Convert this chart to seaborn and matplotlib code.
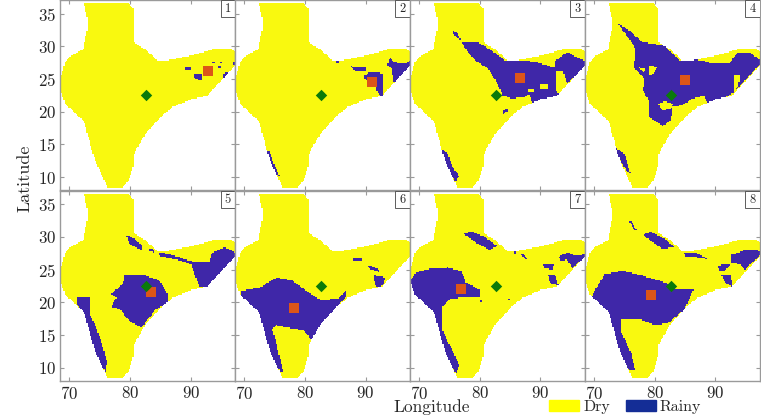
import numpy as np
import seaborn as sns
import matplotlib.pyplot as plt
from matplotlib.colors import ListedColormap
from matplotlib.patches import Patch, Rectangle
from matplotlib.path import Path

# outline of the region (lon, lat)
land = [(72.4, 36.6), (79.7, 36.6), (80.6, 35.6), (80.6, 30.6), (82.7, 29.4), (84.7, 27.7), (86.5, 27.9),
        (89.8, 28.5), (92.5, 29.2), (94.2, 29.7), (96.7, 29.6), (97.5, 29.1), (97.5, 27.3), (94.2, 23.8),
        (92.6, 22.4), (90.1, 21.9), (87.1, 20.7), (85.4, 19.5), (82.4, 16.4), (80.6, 13.5), (80.6, 11.9),
        (79.7, 9.3), (78.6, 8.3), (76.4, 8.3), (74.2, 12.6), (72.4, 18.5), (69.3, 21.2), (68.5, 23.3),
        (68.5, 24.8), (69.3, 27.6), (70.4, 28.6), (72.3, 29.6), (73.1, 33.4)]

# rainy patches for each panel
rainy_1 = [[(90.5, 25.8), (91.7, 25.8), (91.8, 24.8), (91.2, 24.9), (90.6, 25.2)],
           [(89.0, 26.7), (90.1, 26.7), (90.1, 26.35), (89.0, 26.35)],
           [(94.6, 27.0), (95.1, 27.0), (95.1, 26.5), (94.6, 26.5)],
           [(95.3, 25.8), (96.4, 26.1), (96.2, 25.7), (95.5, 25.2)],
           [(97.0, 27.6), (97.5, 27.6), (97.5, 27.1), (97.0, 27.2)],
           [(93.7, 27.6), (94.0, 27.6), (94.0, 27.3), (93.7, 27.3)],
           [(94.9, 27.6), (95.2, 27.6), (95.2, 27.3), (94.9, 27.3)]]
rainy_2 = [[(89.9, 25.5), (90.5, 26.0), (91.8, 26.1), (92.8, 25.8), (92.8, 22.2), (92.0, 22.8), (91.8, 23.8),
            (90.4, 24.5), (89.9, 25.0)],
           [(87.6, 27.0), (88.2, 26.8), (90.0, 26.8), (90.0, 26.3), (88.4, 26.2)],
           [(94.0, 28.35), (94.7, 27.6), (96.3, 27.3), (97.5, 27.85), (97.5, 27.1), (94.7, 24.5), (94.3, 26.6),
            (93.6, 27.1)],
           [(73.6, 14.1), (74.2, 14.0), (74.7, 12.5), (75.9, 10.1), (75.2, 10.5), (74.2, 12.5)],
           [(85.3, 27.7), (85.6, 27.7), (85.6, 27.3), (85.3, 27.3)]]
rainy_3 = [[(77.0, 30.6), (79.9, 30.5), (82.3, 29.1), (84.3, 27.7), (86.2, 27.9), (89.2, 27.6), (92.7, 26.6),
            (92.7, 23.3), (93.0, 22.5), (88.6, 21.3), (88.1, 22.7), (87.5, 22.3), (85.3, 22.0), (83.7, 22.5),
            (82.6, 24.8), (81.3, 26.6), (79.3, 27.8), (78.0, 29.1)],
           [(92.5, 27.8), (94.4, 29.1), (95.8, 28.4), (97.6, 27.7), (97.6, 27.2), (94.4, 24.3), (93.8, 26.1),
            (92.5, 26.3)],
           [(75.5, 32.4), (76.2, 32.1), (76.8, 31.0), (76.2, 31.3), (75.6, 31.9)],
           [(83.7, 20.0), (84.7, 20.6), (84.7, 20.2), (83.9, 19.6)],
           [(73.4, 14.5), (74.7, 13.6), (75.2, 12.1), (76.6, 10.1), (76.0, 9.3), (74.4, 11.6)]]
rainy_4 = [[(74.0, 33.4), (75.8, 32.4), (78.0, 30.6), (81.5, 30.1), (84.3, 27.7), (86.4, 28.1), (89.5, 27.4),
            (92.2, 27.3), (93.6, 28.9), (95.5, 29.1), (97.5, 27.85), (97.5, 27.4), (92.7, 22.7), (91.1, 22.0),
            (88.6, 21.3), (88.1, 22.5), (86.2, 22.0), (84.5, 21.0), (82.9, 20.7), (82.6, 18.7), (81.3, 17.8),
            (79.1, 19.2), (79.1, 21.5), (78.0, 23.3), (78.3, 25.0), (76.6, 26.8), (76.9, 29.6)],
           [(73.5, 14.5), (75.0, 13.6), (76.0, 10.6), (75.4, 10.9), (74.4, 12.4)]]
rainy_5 = [[(79.1, 24.1), (82.7, 24.1), (84.9, 23.3), (86.2, 21.3), (86.2, 19.8), (84.3, 19.0), (81.9, 16.2),
            (79.9, 17.2), (78.3, 19.0), (76.9, 19.3), (77.8, 20.8), (76.9, 21.3), (78.8, 22.8)],
           [(84.9, 27.6), (86.5, 27.4), (90.1, 26.3), (93.1, 26.1), (93.6, 27.6), (95.6, 28.4), (97.5, 27.6),
            (97.5, 27.1), (92.8, 22.3), (91.4, 22.5), (90.1, 25.8), (87.6, 26.6), (84.9, 27.1)],
           [(79.4, 30.3), (80.5, 29.9), (82.1, 28.6), (81.9, 28.0), (79.9, 28.9)],
           [(83.2, 28.3), (84.0, 28.0), (84.0, 27.6), (83.2, 27.9)],
           [(71.3, 20.7), (73.4, 20.7), (73.4, 18.2), (74.6, 15.7), (75.6, 13.0), (76.2, 10.8), (75.9, 9.4),
            (74.0, 12.5), (72.2, 18.5), (71.3, 19.6)]]
rainy_6 = [[(69.5, 21.8), (72.6, 22.3), (75.3, 23.8), (78.0, 23.3), (80.2, 21.8), (82.7, 20.3), (85.7, 20.7),
            (86.8, 21.8), (86.8, 21.0), (85.1, 19.0), (81.0, 14.3), (79.9, 15.7), (75.3, 16.5), (74.6, 16.0),
            (75.2, 14.0), (76.4, 9.4), (75.9, 9.4), (74.0, 12.7), (72.2, 18.4), (69.5, 20.8)],
           [(88.1, 26.7), (89.4, 26.7), (89.4, 26.3), (88.1, 26.4)],
           [(90.3, 25.7), (92.0, 25.2), (92.3, 24.6), (91.0, 25.0)],
           [(91.4, 24.2), (93.2, 23.8), (93.0, 22.8), (92.2, 22.1), (91.6, 22.8), (91.4, 23.5)]]
rainy_7 = [[(68.4, 23.1), (69.5, 24.6), (71.7, 25.1), (74.7, 25.3), (76.9, 24.8), (77.7, 23.1), (79.9, 22.0),
            (80.1, 20.9), (77.2, 20.8), (75.0, 20.5), (73.9, 19.3), (73.9, 15.7), (74.9, 13.7), (76.6, 10.4),
            (76.1, 9.1), (74.0, 12.6), (72.1, 18.4), (69.0, 21.0)],
           [(77.2, 30.6), (78.8, 30.8), (81.0, 29.9), (82.9, 28.6), (81.5, 28.0), (79.4, 29.1)],
           [(93.0, 27.0), (94.4, 27.6), (96.0, 27.1), (97.5, 27.5), (97.5, 27.1), (95.2, 25.2), (94.4, 26.6),
            (93.3, 26.3)],
           [(90.5, 25.7), (92.2, 25.9), (91.9, 25.0), (90.7, 25.2)],
           [(91.3, 24.1), (92.5, 24.1), (93.0, 22.6), (91.9, 22.9), (91.4, 23.4)],
           [(85.6, 27.9), (86.2, 27.6), (85.6, 27.3)],
           [(87.0, 27.5), (88.0, 26.6), (87.6, 26.5), (86.8, 27.2)],
           [(80.0, 20.4), (80.4, 20.4), (80.4, 20.0), (80.0, 20.0)],
           [(84.6, 20.6), (85.0, 20.6), (85.0, 20.3), (84.6, 20.3)]]
rainy_8 = [[(69.6, 20.9), (70.4, 22.3), (71.7, 24.3), (74.7, 24.8), (78.0, 24.1), (81.8, 23.0), (82.9, 22.0),
            (86.4, 21.9), (84.8, 18.9), (82.3, 16.9), (80.2, 16.5), (77.4, 17.4), (74.4, 17.4), (74.4, 15.7),
            (76.1, 12.2), (76.8, 9.6), (75.8, 9.6), (74.0, 12.6), (72.2, 18.4)],
           [(78.0, 30.4), (79.4, 30.8), (81.8, 29.6), (83.2, 28.5), (81.3, 28.1), (79.4, 29.4)],
           [(75.9, 32.3), (76.2, 32.3), (77.0, 31.0), (76.6, 31.0)],
           [(92.7, 27.3), (95.2, 28.1), (97.5, 27.85), (97.5, 27.4), (94.9, 25.0), (94.1, 25.8), (92.7, 26.1)],
           [(90.4, 25.6), (92.5, 25.9), (91.6, 24.8), (90.6, 24.8)],
           [(91.0, 24.2), (92.5, 24.3), (93.0, 22.3), (91.6, 23.0)],
           [(84.8, 27.6), (86.5, 27.7), (88.9, 26.6), (87.0, 26.9), (85.0, 27.1)]]
rainy = [rainy_1, rainy_2, rainy_3, rainy_4, rainy_5, rainy_6, rainy_7, rainy_8]

# dry gaps inside the big rainy patches
dry_gaps_3 = [[(88.1, 23.4), (89.0, 23.3), (89.0, 22.9), (88.1, 22.9)],
              [(90.0, 24.1), (91.3, 24.3), (91.3, 23.4), (90.0, 23.5)]]
dry_gaps_4 = [[(79.0, 27.0), (80.4, 26.8), (79.6, 25.6), (79.0, 25.6)],
              [(77.5, 26.7), (78.4, 26.6), (78.2, 25.8)],
              [(80.6, 21.2), (81.8, 21.6), (83.0, 21.2), (82.6, 20.4), (81.2, 20.2)],
              [(93.0, 25.5), (94.1, 25.6), (93.8, 24.0), (93.0, 22.8)]]
dry_gaps = [[], [], dry_gaps_3, dry_gaps_4, [], [], [], []]

# wettest location per panel and the fixed station
centre_lon = [92.9, 91.1, 86.7, 84.9, 83.4, 78.2, 76.8, 79.3]
centre_lat = [26.2, 24.5, 25.15, 24.9, 21.6, 19.2, 22.1, 21.1]
station_lon = [82.7, 82.7, 82.7, 82.7, 82.7, 82.7, 82.7, 82.7]
station_lat = [22.6, 22.6, 22.6, 22.6, 22.5, 22.5, 22.5, 22.5]

lon_ticks = [70, 80, 90]
lat_ticks = [10, 15, 20, 25, 30, 35]

sns.set_style("ticks")
plt.rcParams['font.family'] = ['cmr10', 'DejaVu Serif']
plt.rcParams['axes.formatter.use_mathtext'] = True

YELLOW = '#f9f90f'
BLUE = '#3f27a8'
GREY = '#9a9a9a'
cmap = ListedColormap([YELLOW, BLUE])


def state_grid(patches, gaps):
    """Rasterise the polygons to a 0 (dry) / 1 (rainy) grid, masked outside the outline."""
    lon, lat = np.meshgrid(np.arange(68.5, 97.6, 0.2), np.arange(8.1, 37, 0.2))
    pts = np.column_stack([lon.ravel(), lat.ravel()])
    inside = Path(land + land[:1]).contains_points(pts)
    state = np.zeros(len(pts))
    for p in patches:
        state[Path(p + p[:1]).contains_points(pts)] = 1
    for p in gaps:
        state[Path(p + p[:1]).contains_points(pts)] = 0
    state = np.ma.masked_where(~inside, state)
    return lon, lat, state.reshape(lon.shape)


fig, axes = plt.subplots(2, 4, figsize=(7.61, 4.15), dpi=100)
fig.subplots_adjust(left=0.0795, right=0.999, top=0.999, bottom=0.082, wspace=0, hspace=0.005)

for i, ax in enumerate(axes.flat):
    lon, lat, state = state_grid(rainy[i], dry_gaps[i])
    ax.pcolormesh(lon, lat, state, cmap=cmap, vmin=0, vmax=1, shading='nearest', rasterized=True)
    sns.scatterplot(x=[centre_lon[i]], y=[centre_lat[i]], marker='s', s=52, color='#dc5518', linewidth=0, ax=ax, zorder=4)
    sns.scatterplot(x=[station_lon[i]], y=[station_lat[i]], marker='D', s=34, color='#0a7a0a', linewidth=0, ax=ax, zorder=5)

    ax.set_xlim(68.52, 97.4)
    ax.set_ylim(8, 37)
    ax.set_xticks(lon_ticks)
    ax.set_yticks(lat_ticks)
    ax.tick_params(direction='in', top=True, right=True, length=3, width=0.8, color=GREY, labelsize=12.2, pad=3,
                   labelbottom=i >= 4, labelleft=i % 4 == 0)
    for s in ax.spines.values():
        s.set_color(GREY)
        s.set_linewidth(1.0)
    ax.add_patch(Rectangle((0.915, 0.91), 0.085, 0.09, transform=ax.transAxes, fc='white', ec='#444444', lw=0.6, zorder=6))
    ax.text(0.957, 0.955, str(i + 1), transform=ax.transAxes, ha='center', va='center', fontsize=9, zorder=7)

fig.text(25 / 761, 1 - 178 / 415, 'Latitude', rotation=90, ha='center', va='center', fontsize=13)
fig.text(432 / 761, 1 - 407 / 415, 'Longitude', ha='center', va='center', fontsize=12.5)

handles = [Patch(color='#ffff00', label='Dry'), Patch(color='#142d96', label='Rainy')]
fig.legend(handles=handles, ncol=2, frameon=False, fontsize=11.5, loc='center left',
           bbox_to_anchor=(549 / 761, 1 - 407 / 415), handlelength=1.88, handleheight=0.69,
           handletextpad=0.25, columnspacing=1.0, borderpad=0, borderaxespad=0)

fig.savefig('out.png', dpi=100)
